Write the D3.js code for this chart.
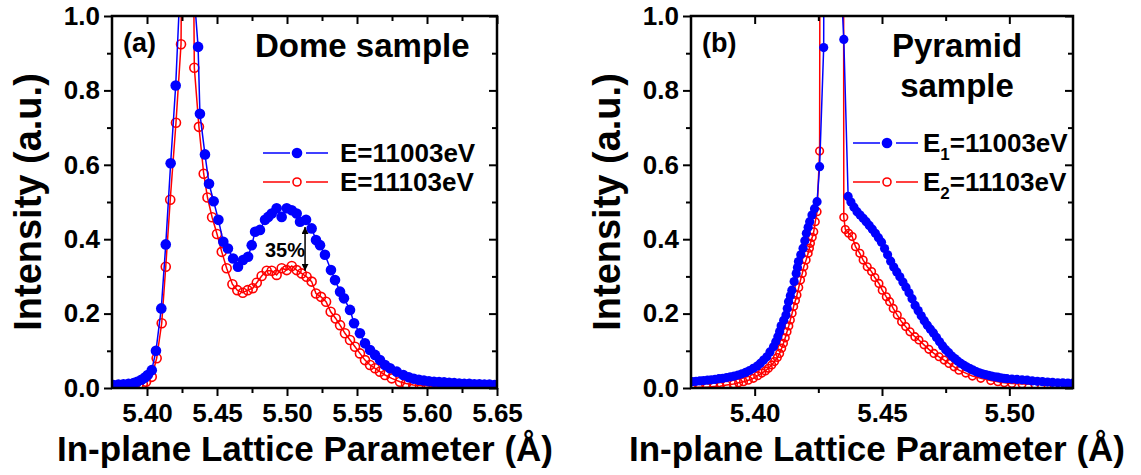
<!DOCTYPE html>
<html>
<head>
<meta charset="utf-8">
<script src="https://cdn.jsdelivr.net/npm/d3@7"></script>
<style>
  body { margin: 0; background: #fff; }
  text { font-family: "Liberation Sans", Arial, sans-serif; font-weight: bold; fill: #000; }
</style>
</head>
<body>
<div id="chart"></div>
<script>
// ---- data ----
const yTicks = [0, 0.2, 0.4, 0.6, 0.8, 1.0];
const yMinor = [0.1, 0.3, 0.5, 0.7, 0.9];

const domeTicks = [5.40, 5.45, 5.50, 5.55, 5.60, 5.65];
const domeMinor = [5.425, 5.475, 5.525, 5.575, 5.625];
const pyrTicks = [5.40, 5.45, 5.50];
const pyrMinor = [5.425, 5.475];

// (a) dome, E = 11003 eV
const domeBlueX = [5.3760, 5.3796, 5.3832, 5.3868, 5.3904, 5.3930, 5.3960, 5.3985, 5.4005, 5.4034,
  5.4064, 5.4102, 5.4134, 5.4169, 5.4205, 5.4245, 5.4280, 5.4338, 5.4365, 5.4378,
  5.4414, 5.4443, 5.4476, 5.4510, 5.4545, 5.4578, 5.4615, 5.4650, 5.4686, 5.4722,
  5.4748, 5.4772, 5.4807, 5.4843, 5.4866, 5.4891, 5.4926, 5.4962, 5.4998, 5.5034,
  5.5069, 5.5093, 5.5136, 5.5176, 5.5207, 5.5236, 5.5271, 5.5314, 5.5343, 5.5379,
  5.5407, 5.5450, 5.5479, 5.5521, 5.5557, 5.5593, 5.5629, 5.5664, 5.5700, 5.5736,
  5.5784, 5.5831, 5.5870, 5.5906, 5.5942, 5.5978, 5.6014, 5.6050, 5.6086, 5.6122,
  5.6158, 5.6194, 5.6230, 5.6266, 5.6302, 5.6338, 5.6374, 5.6410, 5.6446, 5.6482];
const domeBlueY = [0.008, 0.009, 0.010, 0.011, 0.013, 0.017, 0.022, 0.028, 0.035, 0.048,
  0.100, 0.214, 0.386, 0.604, 0.813, 1.15, 1.8, 1.05, 0.917, 0.737,
  0.628, 0.549, 0.502, 0.452, 0.393, 0.375, 0.348, 0.326, 0.344, 0.353,
  0.384, 0.420, 0.425, 0.452, 0.460, 0.469, 0.483, 0.460, 0.483, 0.478,
  0.469, 0.447, 0.452, 0.429, 0.398, 0.384, 0.358, 0.317, 0.290, 0.259,
  0.241, 0.210, 0.174, 0.147, 0.120, 0.102, 0.089, 0.075, 0.062, 0.053,
  0.044, 0.035, 0.029, 0.025, 0.022, 0.020, 0.018, 0.017, 0.016, 0.015,
  0.014, 0.013, 0.012, 0.011, 0.011, 0.010, 0.010, 0.009, 0.009, 0.008];

// (a) dome, E = 11103 eV
const domeRedX = [5.3760, 5.3796, 5.3832, 5.3868, 5.3904, 5.3940, 5.3970, 5.3993, 5.4034, 5.4069,
  5.4105, 5.4134, 5.4166, 5.4207, 5.4243, 5.4275, 5.4305, 5.4338, 5.4371, 5.4405,
  5.4432, 5.4465, 5.4500, 5.4534, 5.4569, 5.4610, 5.4645, 5.4684, 5.4719, 5.4755,
  5.4784, 5.4819, 5.4855, 5.4891, 5.4926, 5.4962, 5.4998, 5.5034, 5.5069, 5.5105,
  5.5140, 5.5176, 5.5207, 5.5243, 5.5279, 5.5312, 5.5348, 5.5379, 5.5414, 5.5450,
  5.5486, 5.5521, 5.5557, 5.5593, 5.5629, 5.5664, 5.5700, 5.5748, 5.5807, 5.5850,
  5.5902, 5.5950, 5.6000, 5.6050, 5.6100, 5.6150, 5.6200, 5.6250, 5.6300, 5.6350,
  5.6400, 5.6450, 5.6500];
const domeRedY = [0.004, 0.004, 0.005, 0.005, 0.006, 0.008, 0.011, 0.017, 0.030, 0.080,
  0.174, 0.326, 0.506, 0.713, 0.924, 2.5, 2.5, 0.861, 0.702, 0.576,
  0.512, 0.459, 0.414, 0.366, 0.322, 0.279, 0.263, 0.256, 0.263, 0.268,
  0.283, 0.301, 0.315, 0.315, 0.304, 0.322, 0.317, 0.328, 0.317, 0.308,
  0.299, 0.286, 0.254, 0.245, 0.232, 0.205, 0.187, 0.169, 0.147, 0.129,
  0.111, 0.093, 0.075, 0.062, 0.053, 0.044, 0.035, 0.026, 0.017, 0.012,
  0.008, 0.007, 0.006, 0.005, 0.005, 0.004, 0.004, 0.004, 0.003, 0.003,
  0.003, 0.003, 0.003];

// (b) pyramid, E1 = 11003 eV
const pyrBlueX = [5.3755, 5.3770, 5.3785, 5.3800, 5.3815, 5.3830, 5.3845, 5.3860, 5.3875, 5.3890,
  5.3905, 5.3920, 5.3935, 5.3950, 5.3965, 5.3980, 5.3995, 5.4010, 5.4022, 5.4035,
  5.4048, 5.4060, 5.4074, 5.4083, 5.4091, 5.4098, 5.4104, 5.4114, 5.4123, 5.4128,
  5.4133, 5.4140, 5.4146, 5.4155, 5.4163, 5.4168, 5.4172, 5.4181, 5.4190, 5.4197,
  5.4203, 5.4210, 5.4216, 5.4225, 5.4235, 5.4245, 5.4255, 5.4271, 5.4285, 5.4342,
  5.4350, 5.4367, 5.4378, 5.4390, 5.4402, 5.4414, 5.4426, 5.4438, 5.4450, 5.4462,
  5.4474, 5.4486, 5.4498, 5.4510, 5.4522, 5.4534, 5.4546, 5.4558, 5.4570, 5.4582,
  5.4594, 5.4606, 5.4618, 5.4630, 5.4642, 5.4654, 5.4666, 5.4678, 5.4690, 5.4702,
  5.4714, 5.4726, 5.4738, 5.4750, 5.4762, 5.4774, 5.4786, 5.4798, 5.4810, 5.4822,
  5.4834, 5.4846, 5.4858, 5.4870, 5.4882, 5.4894, 5.4906, 5.4918, 5.4930, 5.4942,
  5.4954, 5.4966, 5.4978, 5.4990, 5.5010, 5.5030, 5.5050, 5.5070, 5.5090, 5.5110,
  5.5130, 5.5150, 5.5170, 5.5190, 5.5210, 5.5230, 5.5250];
const pyrBlueY = [0.017, 0.018, 0.019, 0.020, 0.021, 0.022, 0.023, 0.025, 0.026, 0.028,
  0.030, 0.032, 0.035, 0.038, 0.042, 0.047, 0.053, 0.059, 0.066, 0.075,
  0.084, 0.097, 0.111, 0.124, 0.138, 0.152, 0.167, 0.182, 0.196, 0.214,
  0.232, 0.248, 0.263, 0.286, 0.308, 0.324, 0.340, 0.358, 0.376, 0.396,
  0.416, 0.432, 0.447, 0.465, 0.482, 0.501, 0.595, 0.915, 6.0, 1.05,
  0.937, 0.515, 0.500, 0.486, 0.474, 0.465, 0.456, 0.447, 0.437, 0.427,
  0.416, 0.404, 0.392, 0.375, 0.358, 0.341, 0.325, 0.312, 0.299, 0.285,
  0.271, 0.256, 0.240, 0.222, 0.208, 0.194, 0.181, 0.169, 0.158, 0.148,
  0.136, 0.124, 0.113, 0.103, 0.095, 0.086, 0.079, 0.072, 0.066, 0.061,
  0.056, 0.052, 0.048, 0.044, 0.041, 0.038, 0.036, 0.034, 0.032, 0.030,
  0.029, 0.027, 0.026, 0.025, 0.024, 0.023, 0.022, 0.021, 0.019, 0.018,
  0.017, 0.016, 0.015, 0.014, 0.014, 0.013, 0.013];

// (b) pyramid, E2 = 11103 eV
const pyrRedX = [5.3755, 5.3780, 5.3812, 5.3840, 5.3864, 5.3890, 5.3917, 5.3937, 5.3956, 5.3975,
  5.3995, 5.4012, 5.4028, 5.4042, 5.4054, 5.4067, 5.4078, 5.4089, 5.4098, 5.4106,
  5.4113, 5.4120, 5.4127, 5.4134, 5.4140, 5.4147, 5.4153, 5.4160, 5.4166, 5.4173,
  5.4180, 5.4187, 5.4193, 5.4202, 5.4210, 5.4215, 5.4219, 5.4226, 5.4232, 5.4238,
  5.4245, 5.4255, 5.4265, 5.4345, 5.4350, 5.4356, 5.4369, 5.4383, 5.4396, 5.4413,
  5.4426, 5.4442, 5.4459, 5.4472, 5.4488, 5.4501, 5.4517, 5.4530, 5.4544, 5.4560,
  5.4577, 5.4593, 5.4610, 5.4629, 5.4645, 5.4665, 5.4684, 5.4704, 5.4724, 5.4744,
  5.4763, 5.4783, 5.4802, 5.4829, 5.4855, 5.4888, 5.4927, 5.4955, 5.4980, 5.5010,
  5.5050, 5.5100, 5.5150, 5.5200, 5.5250];
const pyrRedY = [0.001, 0.002, 0.002, 0.004, 0.005, 0.008, 0.011, 0.014, 0.017, 0.021,
  0.026, 0.033, 0.040, 0.046, 0.053, 0.062, 0.071, 0.082, 0.093, 0.107,
  0.120, 0.135, 0.151, 0.167, 0.183, 0.201, 0.219, 0.235, 0.250, 0.270,
  0.290, 0.308, 0.326, 0.344, 0.362, 0.376, 0.389, 0.405, 0.420, 0.447,
  0.474, 0.637, 5.0, 5.0, 0.459, 0.426, 0.416, 0.407, 0.380, 0.362,
  0.344, 0.326, 0.313, 0.297, 0.281, 0.263, 0.245, 0.232, 0.214, 0.196,
  0.178, 0.165, 0.151, 0.138, 0.129, 0.116, 0.104, 0.093, 0.084, 0.075,
  0.066, 0.057, 0.048, 0.040, 0.032, 0.026, 0.020, 0.017, 0.014, 0.012,
  0.011, 0.010, 0.010, 0.010, 0.010];

const domeLegend = ["E=11003eV", "E=11103eV"];
const pyrLegend = [["E", "1", "=11003eV"], ["E", "2", "=11103eV"]];
const xTitle = "In-plane Lattice Parameter (\u00C5)";
const yTitle = "Intensity (a.u.)";

// ---- drawing ----
const width = 1141;
const height = 475;
const plotTop = 16;
const plotBottom = 388;
const blue = "#0000ff";
const red = "#ff0000";

const svg = d3
  .select("#chart")
  .append("svg")
  .attr("width", width)
  .attr("height", height);

const defs = svg.append("defs");
defs
  .append("marker")
  .attr("id", "arrow")
  .attr("viewBox", "0 0 10 10")
  .attr("refX", 10)
  .attr("refY", 5)
  .attr("markerWidth", 7)
  .attr("markerHeight", 7)
  .attr("markerUnits", "userSpaceOnUse")
  .attr("orient", "auto-start-reverse")
  .append("path")
  .attr("d", "M0,0L10,5L0,10z")
  .attr("fill", "#000");

function drawPanel(p) {
  const x = d3.scaleLinear().domain(p.xDomain).range([p.left, p.right]);
  const y = d3.scaleLinear().domain([0, 1]).range([plotBottom, plotTop]);

  const clipId = "clip-" + p.id;
  defs
    .append("clipPath")
    .attr("id", clipId)
    .append("rect")
    .attr("x", p.left)
    .attr("y", plotTop)
    .attr("width", p.right - p.left)
    .attr("height", plotBottom - plotTop);

  const plot = svg.append("g").attr("clip-path", `url(#${clipId})`);
  const line = d3
    .line()
    .x((d) => x(d[0]))
    .y((d) => y(d[1]));

  // red first, blue on top
  p.series.forEach((s) => {
    const pts = d3.zip(s.xs, s.ys);
    plot
      .append("path")
      .datum(pts)
      .attr("d", line)
      .attr("fill", "none")
      .attr("stroke", s.color)
      .attr("stroke-width", 1.5);
    plot
      .selectAll(null)
      .data(pts)
      .enter()
      .append("circle")
      .attr("cx", (d) => x(d[0]))
      .attr("cy", (d) => y(d[1]))
      .attr("r", s.filled ? p.r : p.r - 0.8)
      .attr("fill", s.filled ? s.color : "none")
      .attr("stroke", s.color)
      .attr("stroke-width", s.filled ? 0 : 1.6);
  });

  // axes: major + minor ticks, mirrored inward on top/right
  const axes = [
    { a: d3.axisBottom(x).tickValues(p.ticks).tickSize(8).tickPadding(8).tickFormat(d3.format(".2f")), t: `translate(0,${plotBottom})` },
    { a: d3.axisBottom(x).tickValues(p.minor).tickSize(5).tickFormat(""), t: `translate(0,${plotBottom})` },
    { a: d3.axisTop(x).tickValues(p.ticks).tickSize(-8).tickFormat(""), t: `translate(0,${plotTop})` },
    { a: d3.axisTop(x).tickValues(p.minor).tickSize(-5).tickFormat(""), t: `translate(0,${plotTop})` },
    { a: d3.axisLeft(y).tickValues(yTicks).tickSize(8).tickPadding(4).tickFormat(d3.format(".1f")), t: `translate(${p.left},0)` },
    { a: d3.axisLeft(y).tickValues(yMinor).tickSize(5).tickFormat(""), t: `translate(${p.left},0)` },
    { a: d3.axisRight(y).tickValues(yTicks).tickSize(-8).tickFormat(""), t: `translate(${p.right},0)` },
    { a: d3.axisRight(y).tickValues(yMinor).tickSize(-5).tickFormat(""), t: `translate(${p.right},0)` },
  ];
  axes.forEach((ax) => {
    const g = svg.append("g").attr("transform", ax.t).call(ax.a);
    g.select(".domain").remove();
    g.selectAll(".tick line").attr("stroke-width", 2);
    g.selectAll(".tick text")
      .attr("font-size", 26)
      .attr("font-family", '"Liberation Sans", Arial, sans-serif')
      .attr("font-weight", "bold")
      .attr("fill", "#000");
  });

  // frame
  svg
    .append("rect")
    .attr("x", p.left)
    .attr("y", plotTop)
    .attr("width", p.right - p.left)
    .attr("height", plotBottom - plotTop)
    .attr("fill", "none")
    .attr("stroke", "#000")
    .attr("stroke-width", 2.5);

  // axis titles
  svg
    .append("text")
    .attr("x", p.xTitleX)
    .attr("y", 461)
    .attr("text-anchor", "middle")
    .attr("font-size", 35)
    .text(xTitle);
  svg
    .append("text")
    .attr("transform", `translate(${p.yTitleX},${(plotTop + plotBottom) / 2}) rotate(-90)`)
    .attr("text-anchor", "middle")
    .attr("font-size", 38)
    .text(yTitle);

  // panel letter
  svg
    .append("text")
    .attr("x", p.left + 11)
    .attr("y", 52)
    .attr("font-size", 27)
    .text(p.letter);

  return { x, y };
}

function legendRow(lx, ly, color, filled, r) {
  svg.append("line").attr("x1", lx).attr("x2", lx + 27).attr("y1", ly).attr("y2", ly)
    .attr("stroke", color).attr("stroke-width", 1.5);
  svg.append("line").attr("x1", lx + 43).attr("x2", lx + 65).attr("y1", ly).attr("y2", ly)
    .attr("stroke", color).attr("stroke-width", 1.5);
  svg.append("circle").attr("cx", lx + 34).attr("cy", ly).attr("r", filled ? r : r - 1.3)
    .attr("fill", filled ? color : "none").attr("stroke", color)
    .attr("stroke-width", filled ? 0 : 1.6);
}

// panel (a)
const a = drawPanel({
  id: "a",
  left: 112,
  right: 497,
  xDomain: [5.375, 5.65],
  ticks: domeTicks,
  minor: domeMinor,
  r: 5.3,
  xTitleX: 305,
  yTitleX: 41,
  letter: "(a)",
  series: [
    { xs: domeRedX, ys: domeRedY, color: red, filled: false },
    { xs: domeBlueX, ys: domeBlueY, color: blue, filled: true },
  ],
});

svg.append("text").attr("x", 255).attr("y", 57).attr("font-size", 33).text("Dome sample");

legendRow(263, 153, blue, true, 5.3);
legendRow(263, 182, red, false, 5.3);
domeLegend.forEach((t, i) => {
  svg.append("text").attr("x", 340).attr("y", 162 + i * 29).attr("font-size", 26).text(t);
});

// 35% annotation
svg
  .append("line")
  .attr("x1", a.x(5.5129))
  .attr("x2", a.x(5.5129))
  .attr("y1", a.y(0.433))
  .attr("y2", a.y(0.315))
  .attr("stroke", "#000")
  .attr("stroke-width", 1.5)
  .attr("marker-start", "url(#arrow)")
  .attr("marker-end", "url(#arrow)");
svg.append("text").attr("x", 265).attr("y", 257).attr("font-size", 20).text("35%");

// panel (b)
drawPanel({
  id: "b",
  left: 691,
  right: 1073,
  xDomain: [5.375, 5.525],
  ticks: pyrTicks,
  minor: pyrMinor,
  r: 4.6,
  xTitleX: 877,
  yTitleX: 620,
  letter: "(b)",
  series: [
    { xs: pyrRedX, ys: pyrRedY, color: red, filled: false },
    { xs: pyrBlueX, ys: pyrBlueY, color: blue, filled: true },
  ],
});

svg.append("text").attr("x", 957).attr("y", 57).attr("text-anchor", "middle").attr("font-size", 33).text("Pyramid");
svg.append("text").attr("x", 957).attr("y", 97).attr("text-anchor", "middle").attr("font-size", 33).text("sample");

legendRow(853, 143, blue, true, 5.3);
legendRow(853, 182, red, false, 5.3);
pyrLegend.forEach((parts, i) => {
  const t = svg.append("text").attr("x", 923).attr("y", 152 + i * 39).attr("font-size", 26);
  t.append("tspan").text(parts[0]);
  t.append("tspan").attr("font-size", 17).attr("dy", 8).text(parts[1]);
  t.append("tspan").attr("dy", -8).text(parts[2]);
});
</script>
</body>
</html>
